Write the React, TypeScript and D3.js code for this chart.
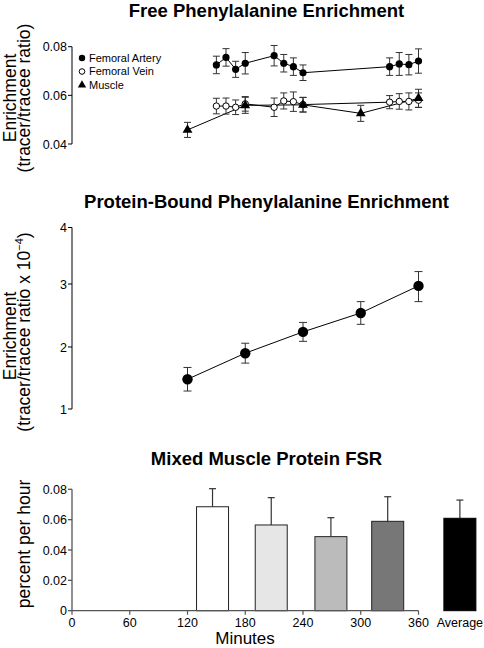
import React from "react";
import * as d3 from "d3";

// ---------- Data ----------
const arteryTimes = [150, 160, 170, 180, 210, 220, 230, 240, 330, 340, 350, 360];
const arteryValues = [0.0725, 0.0756, 0.0707, 0.0732, 0.0763, 0.0732, 0.0718, 0.0693, 0.0718, 0.0729, 0.0726, 0.0741];
const arteryErrors = [0.0036, 0.0036, 0.0033, 0.0044, 0.0042, 0.0036, 0.0036, 0.0032, 0.0036, 0.0047, 0.0042, 0.005];

const veinTimes = [150, 160, 170, 180, 210, 220, 230, 240, 330, 340, 350, 360];
const veinValues = [0.0556, 0.0556, 0.0551, 0.0565, 0.0551, 0.0577, 0.0574, 0.0562, 0.0572, 0.0575, 0.0575, 0.058];
const veinErrors = [0.0032, 0.0033, 0.003, 0.003, 0.0038, 0.0033, 0.004, 0.003, 0.0027, 0.0032, 0.0035, 0.003];

const muscleTimes = [120, 180, 240, 300, 360];
const muscleValues = [0.0458, 0.0559, 0.0561, 0.0526, 0.0588];
const muscleErrors = [0.0031, 0.0033, 0.003, 0.0033, 0.0037];

const boundTimes = [120, 180, 240, 300, 360];
const boundValues = [1.48, 1.9, 2.24, 2.54, 2.97];
const boundErrors = [0.19, 0.16, 0.15, 0.18, 0.25];

const fsrLabels = ["120-180", "180-240", "240-300", "300-360", "Average"];
const fsrMinutes = [146, 207, 269, 328, 403];
const fsrValues = [0.0685, 0.0565, 0.0488, 0.0589, 0.0609];
const fsrErrors = [0.0119, 0.018, 0.0125, 0.0162, 0.012];
const fsrFills = ["#ffffff", "#e6e6e6", "#bbbbbb", "#777777", "#000000"];

const freeTicks = [0.04, 0.06, 0.08];
const boundTicks = [1, 2, 3, 4];
const fsrTicks = [0, 0.02, 0.04, 0.06, 0.08];
const minuteTicks = [0, 60, 120, 180, 240, 300, 360];

const legendItems = ["Femoral Artery", "Femoral Vein", "Muscle"];

// ---------- Layout ----------
const W = 484;
const H = 648;
const FONT = "'Liberation Sans', Arial, Helvetica, sans-serif";
const axisX = 72;

const x = d3.scaleLinear().domain([0, 360]).range([72, 418.5]);
const yFree = d3.scaleLinear().domain([0.04, 0.08]).range([144, 46.7]);
const yBound = d3.scaleLinear().domain([1, 2, 3, 4]).range([409, 347, 284, 227.5]);
const yFsr = d3.scaleLinear().domain([0, 0.08]).range([610.7, 489.3]);

const fmt2 = (v: number) => (v === 0 ? "0" : d3.format(".2f")(v));

function YAxis({ scale, ticks, format, color = "#000", width = 1 }: any) {
  const rng = scale.range();
  const r0 = rng[0];
  const r1 = rng[rng.length - 1];
  return (
    <g>
      <line x1={axisX} x2={axisX} y1={r0} y2={r1} stroke={color} strokeWidth={width} />
      {ticks.map((t: number) => (
        <g key={t}>
          <line x1={axisX - 4} x2={axisX} y1={scale(t)} y2={scale(t)} stroke={color} strokeWidth={width} />
          <text x={axisX - 5} y={scale(t)} dy="0.36em" textAnchor="end" fontSize={12.5} fontFamily={FONT} fill="#000">
            {format(t)}
          </text>
        </g>
      ))}
    </g>
  );
}

function ErrorBars({ times, values, errors, y, cap = 7, color = "#333" }: any) {
  return (
    <g stroke={color} strokeWidth={1}>
      {times.map((t: number, i: number) => {
        const cx = x(t);
        const y1 = y(values[i] + errors[i]);
        const y2 = y(values[i] - errors[i]);
        return (
          <g key={i}>
            <line x1={cx} x2={cx} y1={y1} y2={y2} />
            <line x1={cx - cap / 2} x2={cx + cap / 2} y1={y1} y2={y1} />
            <line x1={cx - cap / 2} x2={cx + cap / 2} y1={y2} y2={y2} />
          </g>
        );
      })}
    </g>
  );
}

function SeriesLine({ times, values, y }: any) {
  const line = d3
    .line<number>()
    .x((_, i) => x(times[i]))
    .y((v) => y(v));
  return <path d={line(values) || ""} fill="none" stroke="#000" strokeWidth={1} />;
}

const triangle = d3.symbol().type(d3.symbolTriangle).size(42)() || "";
const triangleSmall = d3.symbol().type(d3.symbolTriangle).size(30)() || "";

export default function App() {
  return (
    <svg
      width={W}
      height={H}
      viewBox={`0 0 ${W} ${H}`}
      style={{ position: "absolute", left: 0, top: 0, background: "#fff" }}
      fontFamily={FONT}
    >
      <rect width={W} height={H} fill="#fff" />

      {/* ---------- Panel 1 ---------- */}
      <text x={266.5} y={16.5} textAnchor="middle" fontSize={18.5} fontWeight="bold">
        Free Phenylalanine Enrichment
      </text>
      <text transform={`translate(16,98) rotate(-90)`} textAnchor="middle" fontSize={17.5}>
        Enrichment
      </text>
      <text transform={`translate(30,98) rotate(-90)`} textAnchor="middle" fontSize={17.5}>
        (tracer/tracee ratio)
      </text>
      <YAxis scale={yFree} ticks={freeTicks} format={fmt2} />

      {/* legend */}
      {legendItems.map((name, i) => {
        const ly = 58 + i * 13.5;
        return (
          <g key={name}>
            {i === 0 && <circle cx={82} cy={ly} r={3.2} fill="#000" />}
            {i === 1 && <circle cx={82} cy={ly} r={2.8} fill="#fff" stroke="#000" strokeWidth={1} />}
            {i === 2 && <path d={triangleSmall} transform={`translate(82,${ly})`} fill="#000" />}
            <text x={89} y={ly} dy="0.36em" fontSize={11}>
              {name}
            </text>
          </g>
        );
      })}

      <SeriesLine times={arteryTimes} values={arteryValues} y={yFree} />
      <SeriesLine times={veinTimes} values={veinValues} y={yFree} />
      <SeriesLine times={muscleTimes} values={muscleValues} y={yFree} />
      <ErrorBars times={arteryTimes} values={arteryValues} errors={arteryErrors} y={yFree} />
      <ErrorBars times={veinTimes} values={veinValues} errors={veinErrors} y={yFree} />
      <ErrorBars times={muscleTimes} values={muscleValues} errors={muscleErrors} y={yFree} />
      {arteryTimes.map((t, i) => (
        <circle key={"a" + i} cx={x(t)} cy={yFree(arteryValues[i])} r={3.6} fill="#000" />
      ))}
      {veinTimes.map((t, i) => (
        <circle key={"v" + i} cx={x(t)} cy={yFree(veinValues[i])} r={3.2} fill="#fff" stroke="#000" strokeWidth={1} />
      ))}
      {muscleTimes.map((t, i) => (
        <path key={"m" + i} d={triangle} transform={`translate(${x(t)},${yFree(muscleValues[i])})`} fill="#000" />
      ))}

      {/* ---------- Panel 2 ---------- */}
      <text x={266.5} y={207.5} textAnchor="middle" fontSize={18.5} fontWeight="bold">
        Protein-Bound Phenylalanine Enrichment
      </text>
      <text transform={`translate(16,336) rotate(-90)`} textAnchor="middle" fontSize={17.5}>
        Enrichment
      </text>
      <text transform={`translate(30,332) rotate(-90)`} textAnchor="middle" fontSize={17.5}>
        (tracer/tracee ratio x 10
        <tspan fontSize={11} dy={-7}>
          −4
        </tspan>
        <tspan dy={7}>)</tspan>
      </text>
      <YAxis scale={yBound} ticks={boundTicks} format={(v: number) => String(v)} />
      <SeriesLine times={boundTimes} values={boundValues} y={yBound} />
      <ErrorBars times={boundTimes} values={boundValues} errors={boundErrors} y={yBound} cap={8} />
      {boundTimes.map((t, i) => (
        <circle key={"b" + i} cx={x(t)} cy={yBound(boundValues[i])} r={5.2} fill="#000" />
      ))}

      {/* ---------- Panel 3 ---------- */}
      <text x={266.5} y={465} textAnchor="middle" fontSize={18.5} fontWeight="bold">
        Mixed Muscle Protein FSR
      </text>
      <text transform={`translate(30,544) rotate(-90)`} textAnchor="middle" fontSize={17.5}>
        percent per hour
      </text>
      <YAxis scale={yFsr} ticks={fsrTicks} format={fmt2} color="#555" width={1.3} />

      {fsrLabels.map((lab, i) => {
        const cx = x(fsrMinutes[i]);
        const bw = 32;
        const top = yFsr(fsrValues[i]);
        const errTop = yFsr(fsrValues[i] + fsrErrors[i]);
        return (
          <g key={lab}>
            <line x1={cx} x2={cx} y1={top} y2={errTop} stroke="#333" strokeWidth={1.2} />
            <line x1={cx - 3.5} x2={cx + 3.5} y1={errTop} y2={errTop} stroke="#333" strokeWidth={1.2} />
            <rect
              x={cx - bw / 2}
              y={top}
              width={bw}
              height={yFsr(0) - top}
              fill={fsrFills[i]}
              stroke={i === 4 ? "#000" : "#222"}
              strokeWidth={1}
            />
          </g>
        );
      })}

      {/* x axis */}
      <line x1={x(0)} x2={x(360)} y1={yFsr(0)} y2={yFsr(0)} stroke="#555" strokeWidth={1.3} />
      {minuteTicks.map((t) => (
        <g key={t}>
          <line x1={x(t)} x2={x(t)} y1={yFsr(0)} y2={yFsr(0) + 4} stroke="#555" strokeWidth={1.2} />
          <text x={x(t)} y={626.8} textAnchor="middle" fontSize={12.5}>
            {t}
          </text>
        </g>
      ))}
      <text x={x(fsrMinutes[4])} y={626.8} textAnchor="middle" fontSize={12.5}>
        Average
      </text>
      <text x={245} y={644.3} textAnchor="middle" fontSize={17}>
        Minutes
      </text>
    </svg>
  );
}
